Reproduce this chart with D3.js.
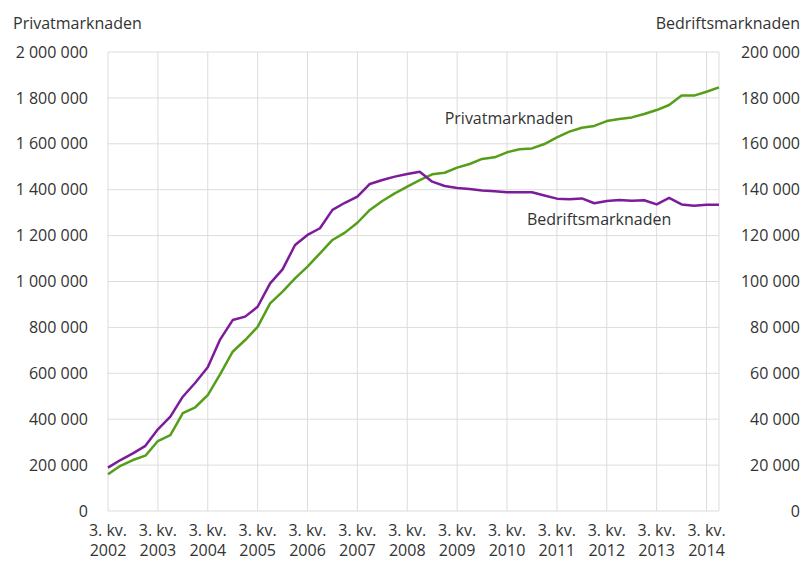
<!DOCTYPE html>
<html>
<head>
<meta charset="utf-8">
<script src="https://cdn.jsdelivr.net/npm/d3@7"></script>
<style>
  body { margin: 0; background: #fff; }
  svg { font-family: "Open Sans", sans-serif; }
  text { fill: #333; }
</style>
</head>
<body>
<div id="chart"></div>
<script>
// quarters from 3. kv. 2002 to 4. kv. 2014
const years = d3.range(2002, 2015)
const quarters = d3.range(50)

// Privatmarknaden (left axis)
const privat = [
  160000, 197000, 222000, 241000, 305000, 331000, 426000, 452000, 505000, 596000,
  694000, 745000, 802000, 905000, 956000, 1014000, 1065000, 1123000, 1181000, 1213000,
  1256000, 1312000, 1351000, 1384000, 1413000, 1442000, 1467000, 1474000, 1496000, 1512000,
  1534000, 1541000, 1563000, 1576000, 1580000, 1599000, 1628000, 1653000, 1670000, 1678000,
  1699000, 1708000, 1715000, 1730000, 1747000, 1769000, 1810000, 1810000, 1827000, 1846000
]

// Bedriftsmarknaden (right axis)
const bedrift = [
  18900, 22200, 25100, 28400, 35600, 41100, 49800, 55900, 62600, 74800,
  83200, 84700, 89000, 99200, 105300, 115900, 120300, 123200, 131200, 134300,
  137000, 142500, 144200, 145700, 146800, 147800, 143500, 141600, 140700, 140300,
  139700, 139300, 138900, 138900, 138900, 137500, 136100, 135800, 136200, 134100,
  135100, 135500, 135200, 135400, 133600, 136400, 133600, 133000, 133400, 133400
]

const leftTicks = d3.range(0, 2000001, 200000)
const rightTicks = d3.range(0, 200001, 20000)

const width = 803, height = 561
const margin = { top: 52, right: 84, bottom: 50, left: 108 }
const fs = 16

const svg = d3.select("#chart").append("svg")
  .attr("width", width)
  .attr("height", height)

const x = d3.scaleLinear()
  .domain([0, quarters.length - 1])
  .range([margin.left, width - margin.right])

const yL = d3.scaleLinear().domain([0, 2000000]).range([height - margin.bottom, margin.top])
const yR = d3.scaleLinear().domain([0, 200000]).range([height - margin.bottom, margin.top])

const fmt = v => d3.format(",")(v).replace(/,/g, " ")

// grid
const grid = svg.append("g").attr("stroke", "#dcdcdc").attr("stroke-width", 1)
grid.selectAll("line.h")
  .data(leftTicks)
  .join("line")
    .attr("class", "h")
    .attr("x1", margin.left).attr("x2", width - margin.right)
    .attr("y1", d => yL(d)).attr("y2", d => yL(d))
grid.selectAll("line.v")
  .data(years.map((y, i) => i * 4).concat([quarters.length - 1]))
  .join("line")
    .attr("class", "v")
    .attr("x1", d => x(d)).attr("x2", d => x(d))
    .attr("y1", margin.top).attr("y2", height - margin.bottom)

// left axis labels
svg.append("g").selectAll("text")
  .data(leftTicks)
  .join("text")
    .attr("x", 88)
    .attr("y", d => yL(d))
    .attr("dy", "0.35em")
    .attr("text-anchor", "end")
    .attr("font-size", fs)
    .text(d => fmt(d))

// right axis labels
svg.append("g").selectAll("text")
  .data(rightTicks)
  .join("text")
    .attr("x", 800)
    .attr("y", d => yR(d))
    .attr("dy", "0.35em")
    .attr("text-anchor", "end")
    .attr("font-size", fs)
    .text(d => fmt(d))

// x labels
const xl = svg.append("g").selectAll("text")
  .data(years)
  .join("text")
    .attr("text-anchor", "middle")
    .attr("font-size", fs)
xl.append("tspan")
  .attr("x", (d, i) => x(i * 4))
  .attr("y", 536)
  .text("3. kv.")
xl.append("tspan")
  .attr("x", (d, i) => x(i * 4))
  .attr("y", 556)
  .text(d => d)

// axis titles
svg.append("text")
  .attr("x", 13).attr("y", 29)
  .attr("font-size", fs)
  .text("Privatmarknaden")
svg.append("text")
  .attr("x", 800).attr("y", 29)
  .attr("text-anchor", "end")
  .attr("font-size", fs)
  .text("Bedriftsmarknaden")

// lines
const lineL = d3.line().x((d, i) => x(i)).y(d => yL(d))
const lineR = d3.line().x((d, i) => x(i)).y(d => yR(d))

svg.append("path")
  .datum(privat)
  .attr("fill", "none")
  .attr("stroke", "#559e19")
  .attr("stroke-width", 2.5)
  .attr("stroke-linejoin", "round")
  .attr("d", lineL)

svg.append("path")
  .datum(bedrift)
  .attr("fill", "none")
  .attr("stroke", "#7c1c9b")
  .attr("stroke-width", 2.5)
  .attr("stroke-linejoin", "round")
  .attr("d", lineR)

// line labels
svg.append("text")
  .attr("x", x(27)).attr("y", yL(1710000))
  .attr("dy", "0.35em")
  .attr("font-size", fs)
  .text("Privatmarknaden")
svg.append("text")
  .attr("x", x(33.6)).attr("y", yR(127000))
  .attr("dy", "0.35em")
  .attr("font-size", fs)
  .text("Bedriftsmarknaden")
</script>
</body>
</html>
